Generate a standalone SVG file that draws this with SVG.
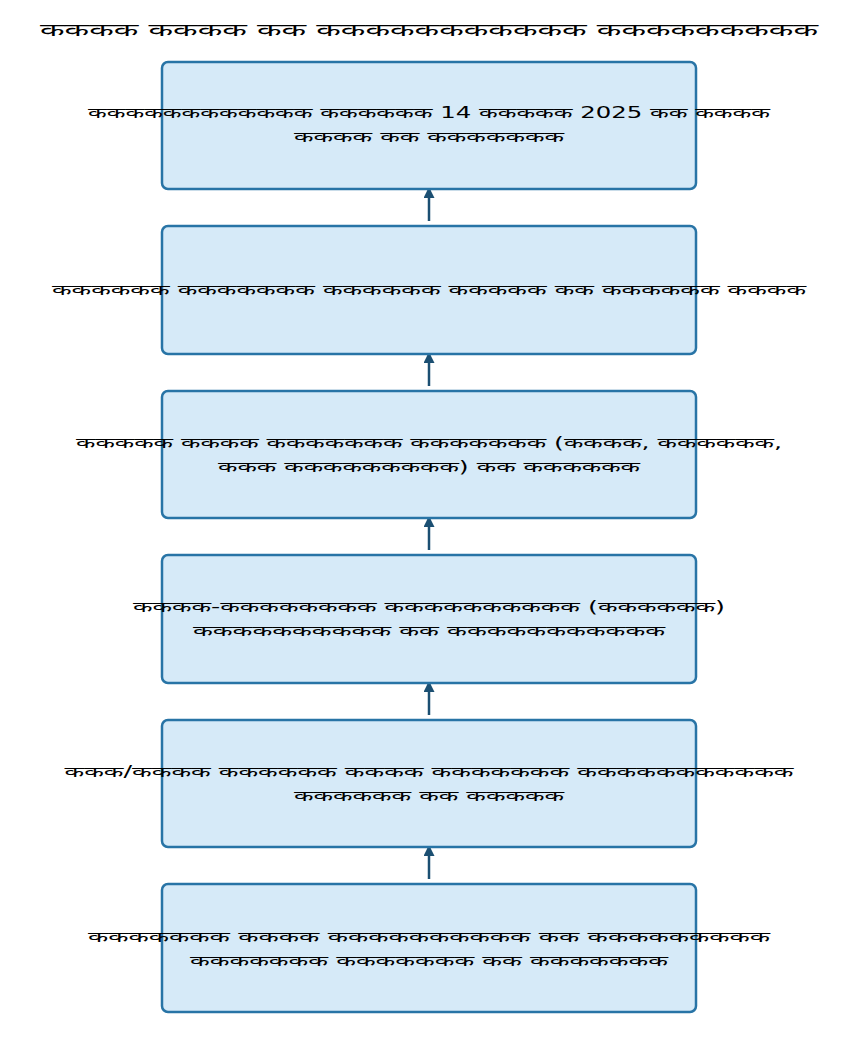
<svg xmlns="http://www.w3.org/2000/svg" width="858" height="1053" viewBox="0 0 858 1053">
<style>
.box{fill:#D6EAF8;stroke:#2874A6;stroke-width:2.5}
.t{font-family:"DejaVu Sans","Noto Sans",sans-serif;font-size:15px;fill:#000;text-anchor:middle}
.title{font-family:"DejaVu Sans","Noto Sans",sans-serif;font-size:18px;fill:#000;text-anchor:middle}
.arr{stroke:#1B4F72;stroke-width:2.5;fill:none}
</style>
<defs>
<marker id="ah" viewBox="0 0 10 10" refX="9" refY="5" markerWidth="4.4" markerHeight="4.4" orient="auto" markerUnits="strokeWidth">
<path d="M0,0 L10,5 L0,10 z" fill="#1B4F72"/>
</marker>
</defs>
<rect width="858" height="1053" fill="#fff"/>
<text class="title" x="429" y="36" textLength="778" lengthAdjust="spacingAndGlyphs">कककक कककक कक ककककककककककक ककककककककक</text>
<g id="connectors">
<line class="arr" x1="429" y1="221" x2="429" y2="188" marker-end="url(#ah)"/>
<line class="arr" x1="429" y1="386" x2="429" y2="353" marker-end="url(#ah)"/>
<line class="arr" x1="429" y1="550" x2="429" y2="517" marker-end="url(#ah)"/>
<line class="arr" x1="429" y1="715" x2="429" y2="682" marker-end="url(#ah)"/>
<line class="arr" x1="429" y1="879" x2="429" y2="846" marker-end="url(#ah)"/>
</g>
<g id="node1">
<rect class="box" x="162" y="62" width="534" height="127" rx="6"/>
<text class="t" x="429" y="118" textLength="682" lengthAdjust="spacingAndGlyphs">कककककककककककक कककककक 14 ककककक 2025 कक कककक</text>
<text class="t" x="429" y="142" textLength="270" lengthAdjust="spacingAndGlyphs">कककक कक ककककककक</text>
</g>
<g id="node2">
<rect class="box" x="162" y="226" width="534" height="128" rx="6"/>
<text class="t" x="429" y="295" textLength="754" lengthAdjust="spacingAndGlyphs">कककककक ककककककक कककककक ककककक कक कककककक कककक</text>
</g>
<g id="node3">
<rect class="box" x="162" y="391" width="534" height="127" rx="6"/>
<text class="t" x="429" y="448" textLength="706" lengthAdjust="spacingAndGlyphs">ककककक कककक ककककककक ककककककक (कककक, कककककक,</text>
<text class="t" x="429" y="472" textLength="422" lengthAdjust="spacingAndGlyphs">ककक ककककककककक) कक कककककक</text>
</g>
<g id="node4">
<rect class="box" x="162" y="555" width="534" height="128" rx="6"/>
<text class="t" x="429" y="612" textLength="592" lengthAdjust="spacingAndGlyphs">कककक-कककककककक कककककककककक (कककककक)</text>
<text class="t" x="429" y="636" textLength="472" lengthAdjust="spacingAndGlyphs">कककककककककक कक ककककककककककक</text>
</g>
<g id="node5">
<rect class="box" x="162" y="720" width="534" height="127" rx="6"/>
<text class="t" x="429" y="777" textLength="729" lengthAdjust="spacingAndGlyphs">ककक/कककक कककककक कककक ककककककक ककककककककककक</text>
<text class="t" x="429" y="801" textLength="270" lengthAdjust="spacingAndGlyphs">कककककक कक ककककक</text>
</g>
<g id="node6">
<rect class="box" x="162" y="884" width="534" height="128" rx="6"/>
<text class="t" x="429" y="942" textLength="682" lengthAdjust="spacingAndGlyphs">ककककककक कककक कककककककककक कक ककककककककक</text>
<text class="t" x="429" y="966" textLength="478" lengthAdjust="spacingAndGlyphs">ककककककक ककककककक कक ककककककक</text>
</g>
</svg>
